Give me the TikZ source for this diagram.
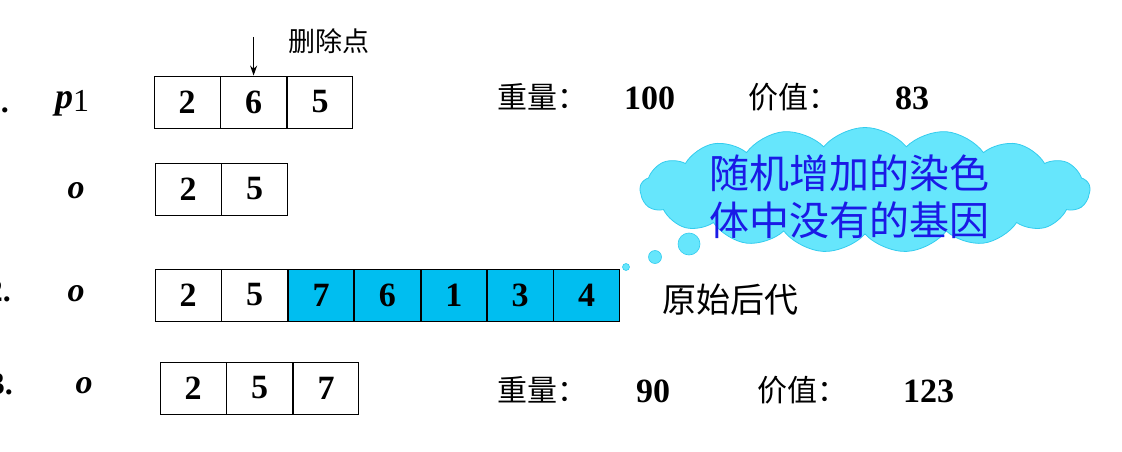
\documentclass[tikz,border=0pt]{standalone}
\usepackage{fontspec}
\setmainfont{Liberation Serif}
\newfontfamily\cjk{Noto Sans CJK SC}
\usetikzlibrary{shapes.symbols,arrows.meta}
\definecolor{cellblue}{HTML}{00BEF0}
\definecolor{cloudfill}{HTML}{66E6FC}
\definecolor{cloudline}{HTML}{33CCEE}
\definecolor{cloudtext}{HTML}{1A1AE6}
\tikzset{
  cell/.style={draw=black, line width=0.9pt, minimum width=65.5pt, minimum height=52pt, inner sep=0pt,
    font=\fontsize{34}{34}\selectfont\bfseries, anchor=west},
  bluecell/.style={cell, fill=cellblue},
  lab/.style={font=\fontsize{30}{30}\selectfont\cjk, anchor=west, inner sep=0pt},
  num/.style={font=\fontsize{34}{34}\selectfont\bfseries, anchor=west, inner sep=0pt},
  var/.style={font=\fontsize{34}{34}\selectfont\bfseries\itshape, inner sep=0pt},
  rownum/.style={font=\fontsize{32}{32}\selectfont\bfseries, inner sep=0pt, anchor=base east},
  bubble/.style={circle, fill=cloudfill, draw=cloudline, line width=0.6pt, inner sep=0pt},
}
\begin{document}
\begin{tikzpicture}[x=1pt,y=-1pt]
\useasboundingbox (0,0) rectangle (1122,452);
% row numbers (cut at the left edge)
\node[rownum] (n1) at (9,113) {1.};
\node[rownum] (n3) at (11,301) {2.};
\node[rownum] (n4) at (13,394) {3.};
% row 1
\node[inner sep=0pt, anchor=west] (p1) at (55,103)
  {{\fontsize{36}{36}\selectfont\bfseries\itshape p}\raisebox{-3pt}{\fontsize{32}{32}\selectfont 1}};
\node[cell] (c11) at (154,102) {2};
\node[cell] (c12) at (c11.east) {6};
\node[cell] (c13) at (c12.east) {5};
\coordinate (arrtop) at (c12.north |- 0,37);
\draw[-{Stealth[length=10pt,width=7pt]}, line width=1.1pt] (arrtop) -- (c12.north);
\node[lab, font=\fontsize{27}{27}\selectfont\cjk] (del) at (288,41) {删除点};
\node[lab] (w1) at (497,97) {重量：};
\node[num] (w1v) at (624,98) {100};
\node[lab] (v1) at (748,97) {价值：};
\node[num] (v1v) at (895,98) {83};
% row 2
\node[var] (o2) at (76,191) {o};
\node[cell] (c21) at (155,189) {2};
\node[cell] (c22) at (c21.east) {5};
% row 3
\node[var] (o3) at (76,294) {o};
\node[cell] (c31) at (155,295) {2};
\node[cell] (c32) at (c31.east) {5};
\node[bluecell] (c33) at (c32.east) {7};
\node[bluecell] (c34) at (c33.east) {6};
\node[bluecell] (c35) at (c34.east) {1};
\node[bluecell] (c36) at (c35.east) {3};
\node[bluecell] (c37) at (c36.east) {4};
\node[lab, font=\fontsize{34}{34}\selectfont\cjk] (orig) at (662,300) {原始后代};
% row 4
\node[var] (o4) at (84,386) {o};
\node[cell] (c41) at (160,388) {2};
\node[cell] (c42) at (c41.east) {5};
\node[cell] (c43) at (c42.east) {7};
\node[lab] (w4) at (497,390) {重量：};
\node[num] (w4v) at (636,391) {90};
\node[lab] (v4) at (757,390) {价值：};
\node[num] (v4v) at (903,391) {123};
% cloud callout
\node[cloud, cloud puffs=17, cloud puff arc=100, aspect=3.6, fill=cloudfill, draw=cloudline, line width=0.8pt,
      minimum width=450pt, minimum height=125pt, inner sep=0pt] (cloud) at (865,190) {};
\node[font=\fontsize{40}{47}\selectfont\cjk, text=cloudtext, align=center, inner sep=0pt] (ctext) at (849,197)
  {随机增加的染色\\体中没有的基因};
\node[bubble, minimum size=22pt] (b1) at (689,244) {};
\node[bubble, minimum size=13pt] (b2) at (655,257) {};
\node[bubble, minimum size=7pt] (b3) at (626,267) {};
\end{tikzpicture}
\end{document}
